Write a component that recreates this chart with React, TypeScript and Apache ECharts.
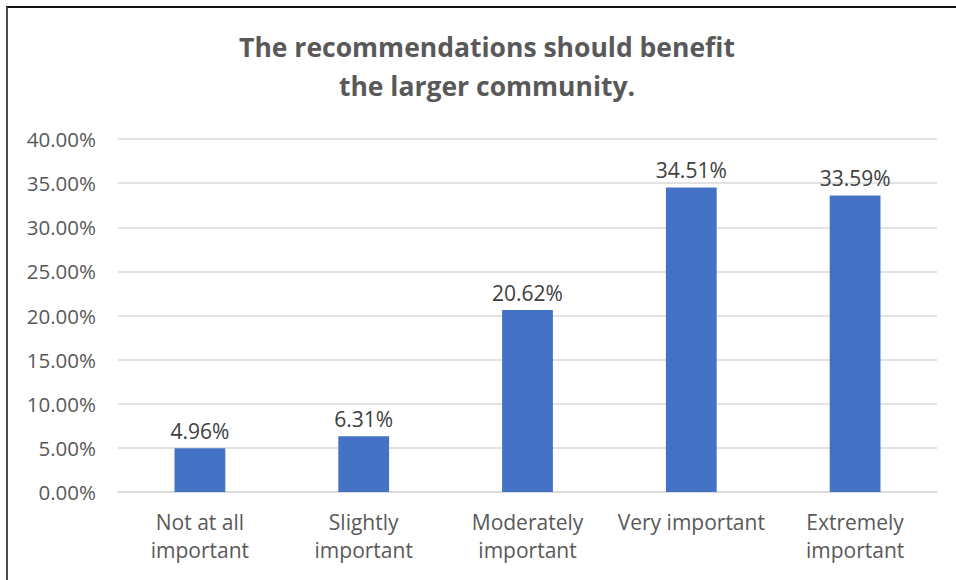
import React, { useEffect, useRef } from "react";
import * as echarts from "echarts";

const categories = [
  "Not at all\nimportant",
  "Slightly\nimportant",
  "Moderately\nimportant",
  "Very important",
  "Extremely\nimportant",
];
const values = [0.0496, 0.0631, 0.2062, 0.3451, 0.3359];
const titleText = "The recommendations should benefit\nthe larger community.";

const FONT = "'Open Sans', sans-serif";

export default function App() {
  const ref = useRef<HTMLDivElement>(null);
  useEffect(() => {
    document.body.style.margin = "0";
    document.body.style.overflow = "hidden";
    const chart = echarts.init(ref.current!, null, { renderer: "svg" });
    chart.setOption({
      animation: false,
      backgroundColor: "#ffffff",
      title: {
        text: titleText,
        left: "center",
        top: 14,
        textStyle: {
          fontFamily: FONT,
          fontSize: 26.5,
          fontWeight: "bold",
          color: "#595959",
          lineHeight: 39,
        },
      },
      grid: { left: 110, right: 29, top: 131, bottom: 88, containLabel: false },
      xAxis: {
        type: "category",
        data: categories,
        axisLine: { lineStyle: { color: "#d9d9d9", width: 1.5 } },
        axisTick: { show: false },
        axisLabel: {
          fontFamily: FONT,
          fontSize: 21,
          color: "#595959",
          lineHeight: 28,
          margin: 16,
          interval: 0,
        },
      },
      yAxis: {
        type: "value",
        min: 0,
        max: 0.4,
        interval: 0.05,
        axisLine: { show: false },
        axisTick: { show: false },
        splitLine: { lineStyle: { color: "#d9d9d9", width: 1.5 } },
        axisLabel: {
          fontFamily: FONT,
          fontSize: 20.5,
          color: "#595959",
          margin: 22,
          formatter: (v: number) => (v * 100).toFixed(2) + "%",
        },
      },
      series: [
        {
          type: "bar",
          data: values,
          barWidth: "31%",
          itemStyle: { color: "#4472c4" },
          label: {
            show: true,
            position: "top",
            distance: 7,
            fontFamily: FONT,
            fontSize: 21,
            color: "#404040",
            formatter: (p: any) => (p.value * 100).toFixed(2) + "%",
          },
        },
      ],
    });
    return () => chart.dispose();
  }, []);
  return (
    <div
      style={{
        position: "absolute",
        left: 6,
        top: 6,
        width: 950,
        height: 574,
        overflow: "hidden",
        borderLeft: "2px solid #4d4d4d",
        borderTop: "2px solid #111111",
        boxSizing: "border-box",
      }}
    >
      <div ref={ref} style={{ width: 958, height: 572 }} />
    </div>
  );
}
